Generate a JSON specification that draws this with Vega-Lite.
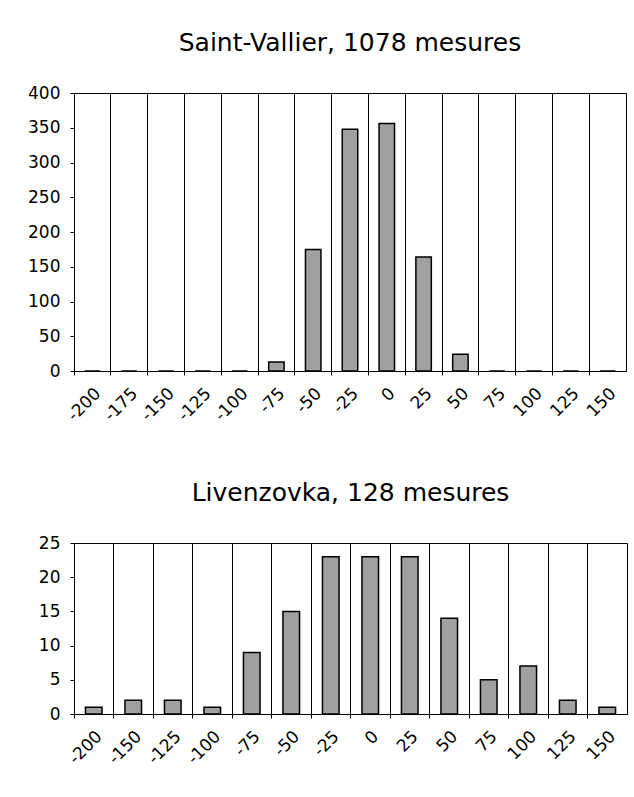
{
  "$schema": "https://vega.github.io/schema/vega-lite/v6.json",
  "padding": {"top": 30, "left": 27, "right": 8, "bottom": 5},
  "background": "white",
  "config": {
    "font": "DejaVu Sans",
    "view": {"stroke": "#000", "strokeWidth": 1},
    "axis": {"labelFont": "DejaVu Sans", "labelColor": "#000", "labelFontSize": 17, "domainColor": "#000", "tickColor": "#000", "tickSize": 4, "title": null}
  },
  "spacing": 55,
  "vconcat": [
    {
      "width": 552,
      "height": 278,
      "title": {"text": "Saint-Vallier, 1078 mesures", "fontSize": 25, "fontWeight": "normal", "font": "DejaVu Sans", "color": "#000", "frame": "group", "anchor": "middle", "offset": 28},
      "data": {"values": [
        {"bin": "-200", "count": 0}, {"bin": "-175", "count": 0}, {"bin": "-150", "count": 0},
        {"bin": "-125", "count": 0}, {"bin": "-100", "count": 0}, {"bin": "-75", "count": 13},
        {"bin": "-50", "count": 175}, {"bin": "-25", "count": 348}, {"bin": "0", "count": 356},
        {"bin": "25", "count": 164}, {"bin": "50", "count": 24}, {"bin": "75", "count": 0},
        {"bin": "100", "count": 0}, {"bin": "125", "count": 0}, {"bin": "150", "count": 0}
      ]},
      "mark": {"type": "bar", "width": {"band": 0.42}, "fill": "#a0a0a0", "stroke": "#000", "strokeWidth": 1.5},
      "encoding": {
        "x": {"field": "bin", "type": "nominal", "sort": null,
              "scale": {"paddingInner": 0, "paddingOuter": 0},
              "axis": {"bandPosition": 0, "grid": true, "gridColor": "#000", "gridOpacity": 1, "labelAngle": -45, "labelAlign": "right", "labelBaseline": "top", "labelPadding": 10}},
        "y": {"field": "count", "type": "quantitative",
              "scale": {"domain": [0, 400], "nice": false},
              "axis": {"values": [0, 50, 100, 150, 200, 250, 300, 350, 400], "grid": false, "labelPadding": 10}}
      }
    },
    {
      "width": 553,
      "height": 171,
      "title": {"text": "Livenzovka, 128 mesures", "fontSize": 25, "fontWeight": "normal", "font": "DejaVu Sans", "color": "#000", "frame": "group", "anchor": "middle", "offset": 28},
      "data": {"values": [
        {"bin": "-200", "count": 1}, {"bin": "-150", "count": 2}, {"bin": "-125", "count": 2},
        {"bin": "-100", "count": 1}, {"bin": "-75", "count": 9}, {"bin": "-50", "count": 15},
        {"bin": "-25", "count": 23}, {"bin": "0", "count": 23}, {"bin": "25", "count": 23},
        {"bin": "50", "count": 14}, {"bin": "75", "count": 5}, {"bin": "100", "count": 7},
        {"bin": "125", "count": 2}, {"bin": "150", "count": 1}
      ]},
      "mark": {"type": "bar", "width": {"band": 0.42}, "fill": "#a0a0a0", "stroke": "#000", "strokeWidth": 1.5},
      "encoding": {
        "x": {"field": "bin", "type": "nominal", "sort": null,
              "scale": {"paddingInner": 0, "paddingOuter": 0},
              "axis": {"bandPosition": 0, "grid": true, "gridColor": "#000", "gridOpacity": 1, "labelAngle": -45, "labelAlign": "right", "labelBaseline": "top", "labelPadding": 10}},
        "y": {"field": "count", "type": "quantitative",
              "scale": {"domain": [0, 25], "nice": false},
              "axis": {"values": [0, 5, 10, 15, 20, 25], "grid": false, "labelPadding": 10}}
      }
    }
  ]
}
